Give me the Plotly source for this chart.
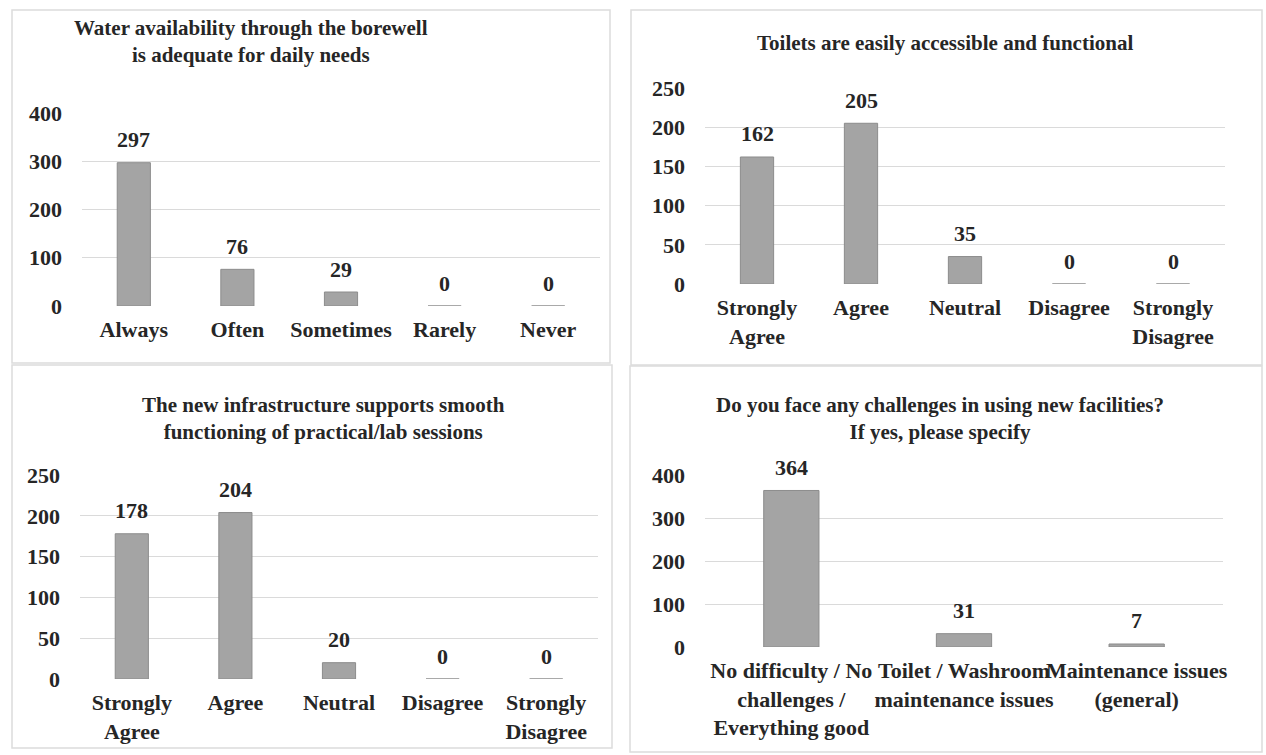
import plotly.graph_objects as go

# ---- data ----
water_labels = ["Always", "Often", "Sometimes", "Rarely", "Never"]
water_counts = [297, 76, 29, 0, 0]

toilet_labels = ["Strongly<br>Agree", "Agree", "Neutral", "Disagree", "Strongly<br>Disagree"]
toilet_counts = [162, 205, 35, 0, 0]

lab_labels = ["Strongly<br>Agree", "Agree", "Neutral", "Disagree", "Strongly<br>Disagree"]
lab_counts = [178, 204, 20, 0, 0]

challenge_labels = [
    "No difficulty / No<br>challenges /<br>Everything good",
    "Toilet / Washroom<br>maintenance issues",
    "Maintenance issues<br>(general)",
]
challenge_counts = [364, 31, 7]

titles = [
    "Water availability through the borewell<br>is adequate for daily needs",
    "Toilets are easily accessible and functional",
    "The new infrastructure supports smooth<br>functioning of practical/lab sessions",
    "Do you face any challenges in using new facilities?<br>If yes, please specify",
]
y_ranges = [400, 250, 250, 400]
y_steps = [100, 50, 50, 100]

# ---- layout geometry (pixels) ----
W, H = 1266, 755
FONT = "Liberation Serif"
TXT = "#262626"
BAR = "#a4a4a4"
BAR_EDGE = "#8c8c8c"
GRID = "#dadada"


def px(x):
    return x / W


def py(y):
    return 1 - y / H


def bold(s):
    return "<b>" + s + "</b>"


# plot areas: (left, right, top, bottom)
areas = [
    (82, 600, 113, 306),
    (705, 1225, 88, 284),
    (80, 598, 475, 679),
    (705, 1223, 475, 647),
]
# panel frames
frames = [
    (12, 610, 10, 363),
    (631, 1262, 10, 365),
    (12, 612, 365, 748),
    (630, 1262, 366, 752),
]
# title centres (x, y)
title_pos = [(251, 41.5), (945, 43), (323, 418), (940, 418)]

panels = [
    (water_labels, water_counts),
    (toilet_labels, toilet_counts),
    (lab_labels, lab_counts),
    (challenge_labels, challenge_counts),
]

fig = go.Figure()
annotations = []
shapes = []

for i, (cats, vals) in enumerate(panels):
    n = i + 1
    xa = "x" if n == 1 else f"x{n}"
    ya = "y" if n == 1 else f"y{n}"
    fig.add_trace(
        go.Bar(
            x=cats,
            y=vals,
            xaxis=xa,
            yaxis=ya,
            marker=dict(color=BAR, line=dict(color=BAR_EDGE, width=1)),
            width=0.32,
            showlegend=False,
            hoverinfo="y",
        )
    )
    for c, v in zip(cats, vals):
        annotations.append(
            dict(
                x=c, y=v, xref=xa, yref=ya, text=bold(str(v)), showarrow=False,
                yanchor="middle", yshift=23,
                font=dict(family=FONT, size=22, color=TXT),
            )
        )
    l, r, t, b = areas[i]
    common_x = dict(
        domain=[px(l), px(r)], anchor=ya, type="category",
        tickmode="array", tickvals=cats, ticktext=[bold(c) for c in cats],
        tickangle=0, automargin=False,
        showgrid=False, zeroline=False, showline=False, ticks="",
        tickfont=dict(family=FONT, size=22, color=TXT),
        ticklabelstandoff=8, fixedrange=True,
    )
    common_y = dict(
        domain=[py(b), py(t)], anchor=xa, range=[0, y_ranges[i]],
        tickmode="linear", tick0=0, dtick=y_steps[i],
        tickprefix="<b>", ticksuffix="</b>", automargin=False,
        showgrid=True, gridcolor=GRID, gridwidth=1,
        zeroline=False, showline=False, ticks="",
        tickfont=dict(family=FONT, size=22, color=TXT),
        ticklabelstandoff=19, fixedrange=True,
    )
    fig.update_layout({
        ("xaxis" if n == 1 else f"xaxis{n}"): common_x,
        ("yaxis" if n == 1 else f"yaxis{n}"): common_y,
    })

    tx, ty = title_pos[i]
    annotations.append(
        dict(
            x=px(tx), y=py(ty), xref="paper", yref="paper", text=bold(titles[i]),
            showarrow=False, xanchor="center", yanchor="middle",
            font=dict(family=FONT, size=21, color=TXT),
        )
    )
    fl, fr, ft, fb = frames[i]
    shapes.append(
        dict(
            type="rect", xref="paper", yref="paper",
            x0=px(fl), x1=px(fr), y0=py(fb), y1=py(ft),
            line=dict(color="#dcdcdc", width=1.5), fillcolor="rgba(0,0,0,0)",
            layer="below",
        )
    )

fig.update_layout(
    width=W,
    height=H,
    margin=dict(l=0, r=0, t=0, b=0),
    paper_bgcolor="white",
    plot_bgcolor="white",
    annotations=annotations,
    shapes=shapes,
    font=dict(family=FONT, color=TXT),
)

fig.write_html("out.html", include_plotlyjs=True, config={"displayModeBar": False})
